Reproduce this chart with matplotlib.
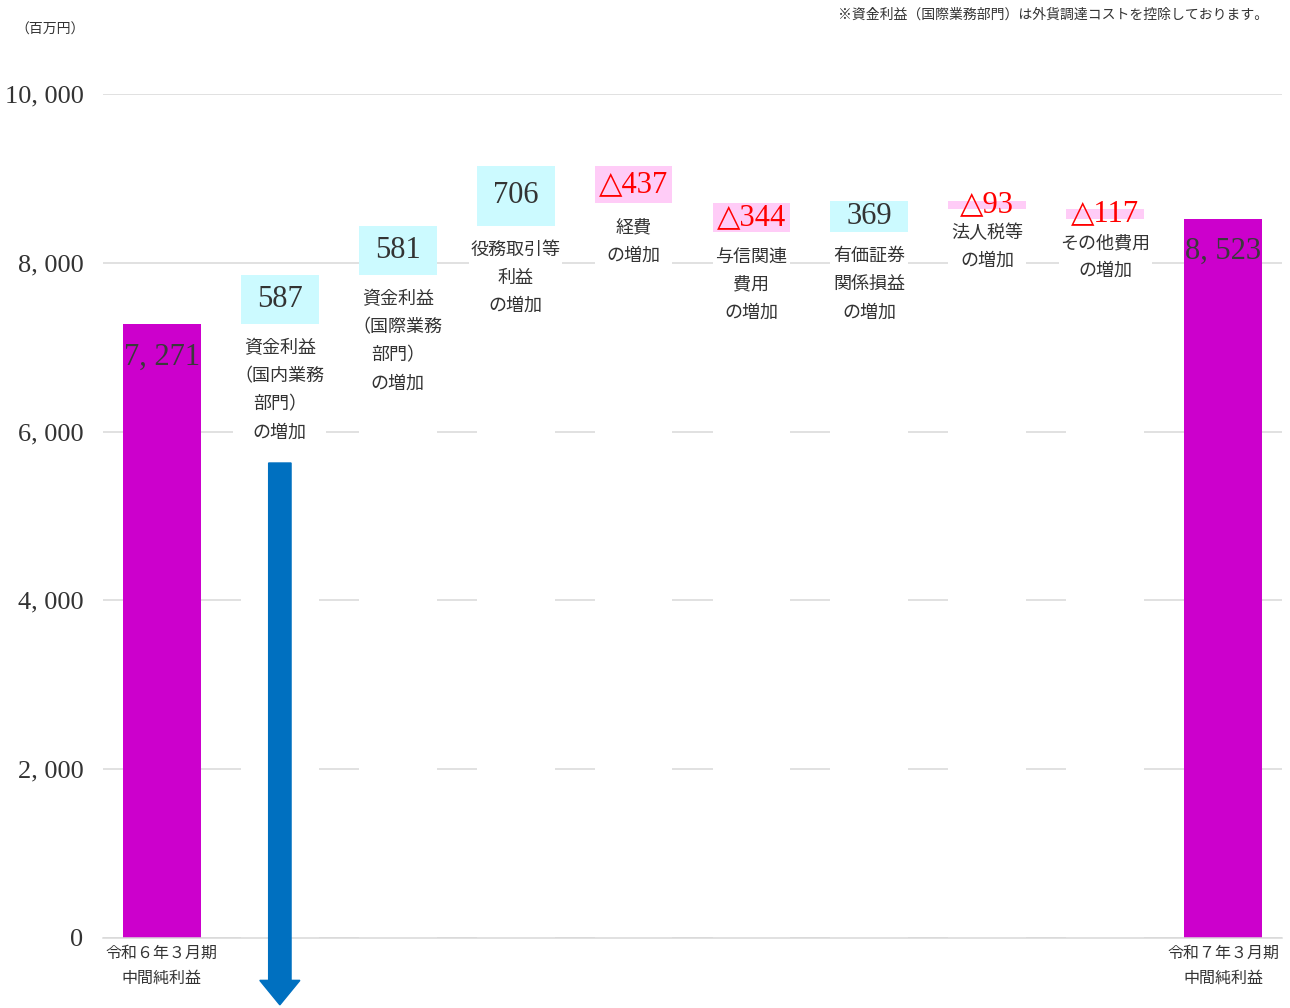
import numpy as np
import matplotlib
matplotlib.use("Agg")
import matplotlib.pyplot as plt
from matplotlib.patches import FancyArrow

plt.rcParams['font.family'] = ['Noto Sans CJK JP', 'DejaVu Sans']
SERIF = ['Liberation Serif', 'DejaVu Serif']

# データ（百万円）
categories = [
    "令和６年３月期\n中間純利益",
    "資金利益\n（国内業務\n部門）\nの増加",
    "資金利益\n（国際業務\n部門）\nの増加",
    "役務取引等\n利益\nの増加",
    "経費\nの増加",
    "与信関連\n費用\nの増加",
    "有価証券\n関係損益\nの増加",
    "法人税等\nの増加",
    "その他費用\nの増加",
    "令和７年３月期\n中間純利益",
]
values = [7271, 587, 581, 706, -437, -344, 369, -93, -117, 8523]
yticks = [0, 2000, 4000, 6000, 8000, 10000]

note = "※資金利益（国際業務部門）は外貨調達コストを控除しております。"
unit = "（百万円）"

C_TOTAL = '#CC00CC'
C_UP = '#CCFAFF'
C_DOWN = '#FFCCF7'


def main():
    n = len(values)
    x = np.arange(n)
    bottoms, heights, bases, colors = [], [], [], []
    level = 0
    for i, v in enumerate(values):
        if i == 0 or i == n - 1:
            bottoms.append(0)
            heights.append(v)
            bases.append(0)
            colors.append(C_TOTAL)
            level = v
        elif v > 0:
            bottoms.append(level)
            heights.append(v)
            bases.append(level)
            colors.append(C_UP)
            level += v
        else:
            level += v
            bottoms.append(level)
            heights.append(-v)
            bases.append(level)
            colors.append(C_DOWN)

    fig = plt.figure(figsize=(12.9, 10.08), dpi=100)
    ax = fig.add_axes([103 / 1290, 70 / 1008, 1179 / 1290, 844 / 1008])

    # 白い土台で目盛線を隠す
    ax.bar(x, bases, width=0.66, color='white', zorder=1)
    ax.bar(x, heights, bottom=bottoms, width=0.66, color=colors, zorder=2)

    for i, v in enumerate(values):
        if i == 0 or i == n - 1:
            ax.annotate(f"{v:,}".replace(",", ", "), (i, v), xytext=(0, -13),
                        textcoords='offset points', ha='center', va='top',
                        fontsize=22, color='#3a3a3a', family=SERIF, zorder=4)
            ax.annotate(categories[i], (i, 0), xytext=(0, -5),
                        textcoords='offset points', ha='center', va='top',
                        fontsize=11.5, color='#333333', linespacing=1.6,
                        annotation_clip=False)
        else:
            lab = f"{v}" if v > 0 else f"△{-v}"
            col = '#333333' if v > 0 else '#FF0000'
            ax.text(i, bottoms[i] + heights[i] / 2, lab, ha='center', va='center',
                    fontsize=22, color=col, family=SERIF, zorder=4)
            ax.annotate(categories[i], (i, bottoms[i]), xytext=(0, -11),
                        textcoords='offset points', ha='center', va='top',
                        fontsize=13, color='#333333', linespacing=1.72,
                        bbox=dict(facecolor='white', edgecolor='none', pad=1),
                        zorder=3)

    # 青い矢印
    arr = FancyArrow(1, 5628, 0, -6420, width=0.19, head_width=0.34,
                     head_length=290, length_includes_head=True,
                     color='#0070C0', clip_on=False, zorder=5)
    ax.add_patch(arr)

    ax.set_xlim(-0.5, n - 0.5)
    ax.set_ylim(0, 10000)
    ax.set_xticks([])
    ax.set_yticks(yticks)
    ax.set_yticklabels([f"{t:,}".replace(",", ", ") for t in yticks],
                       family=SERIF, fontsize=19, color='#333333')
    ax.tick_params(axis='y', length=0, pad=14)
    ax.yaxis.grid(True, color='#D9D9D9', linewidth=1.1)
    ax.set_axisbelow(True)
    for s in ['top', 'right', 'left']:
        ax.spines[s].set_visible(False)
    ax.spines['bottom'].set_color('#D9D9D9')
    ax.spines['bottom'].set_linewidth(1.1)

    fig.text(50 / 1290, 1 - 30 / 1008, unit, ha='center', va='center',
             fontsize=10, color='#333333')
    fig.text(1268 / 1290, 1 - 15 / 1008, note, ha='right', va='center',
             fontsize=10, color='#333333')

    fig.savefig('out.png', dpi=100, facecolor='white')


if __name__ == '__main__':
    main()
